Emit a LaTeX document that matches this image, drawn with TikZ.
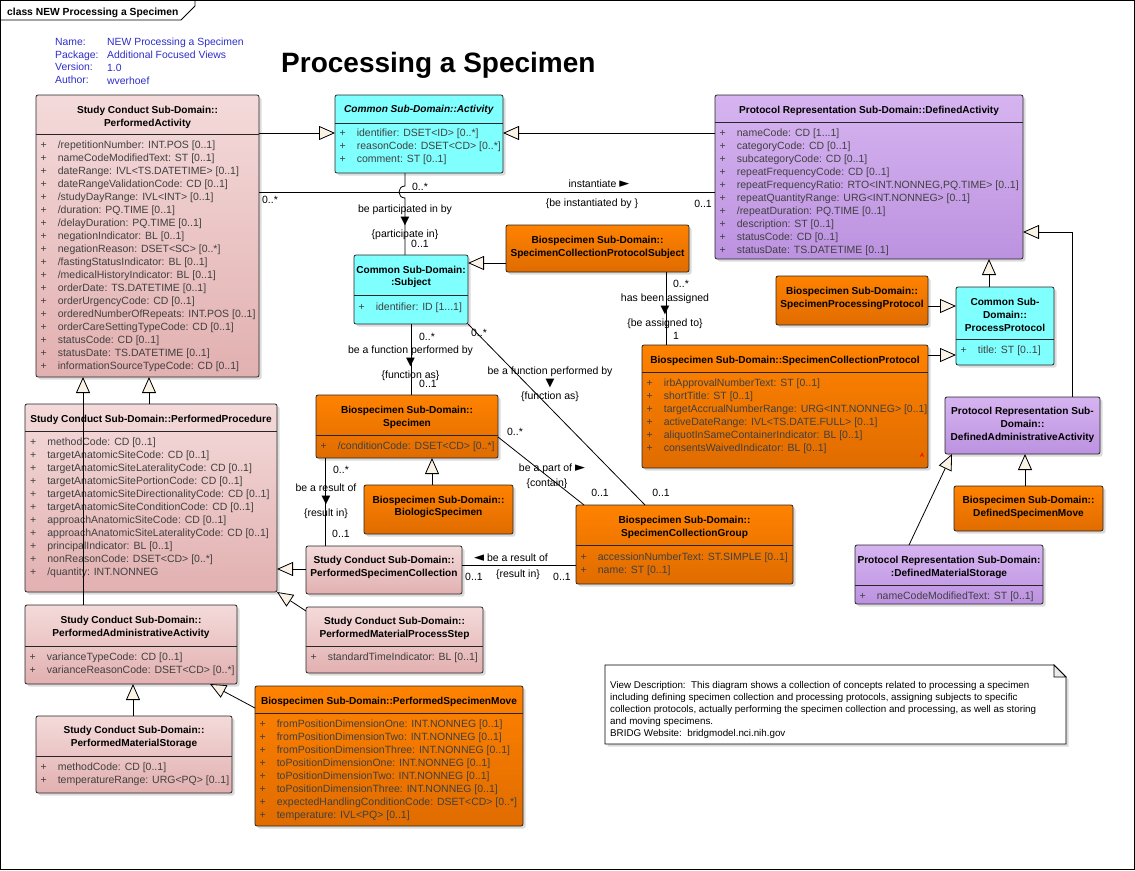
\documentclass[tikz,border=0pt]{standalone}
\usepackage{fontspec}
\setmainfont{Liberation Sans}
\newfontfamily\markfont{DejaVu Sans}
\usepackage{xcolor}
\usetikzlibrary{arrows.meta,positioning,shadows}

\definecolor{pinktop}{RGB}{244,218,218}
\definecolor{pinkbot}{RGB}{226,176,176}
\definecolor{orgtop}{RGB}{255,130,0}
\definecolor{orgbot}{RGB}{224,108,0}
\definecolor{cyanbox}{RGB}{128,255,255}
\definecolor{purtop}{RGB}{214,180,240}
\definecolor{purbot}{RGB}{188,146,224}
\definecolor{cream}{RGB}{250,242,228}
\definecolor{infoblue}{RGB}{45,45,200}

\begin{document}
\begin{tikzpicture}[x=1pt, y=-1pt,
  cls/.style={draw=black!85, line width=0.8pt, rounded corners=2pt, inner sep=0pt, outer sep=0pt,
    anchor=north west, drop shadow={shadow xshift=2.5pt, shadow yshift=-2.5pt, fill=black!40, opacity=0.35}},
  pinkc/.style={cls, top color=pinktop, bottom color=pinkbot},
  orgc/.style={cls, top color=orgtop, bottom color=orgbot},
  cyanc/.style={cls, fill=cyanbox},
  purc/.style={cls, top color=purtop, bottom color=purbot},
  hsep/.style={draw=black!85, line width=0.8pt},
  hd/.style={font=\fontsize{10.1}{12.7}\selectfont\bfseries, align=center, inner sep=0pt},
  attr/.style={font=\fontsize{10.5}{13}\selectfont, text=black!75, anchor=north west, inner sep=0pt},
  lb/.style={font=\fontsize{10.5}{12.3}\selectfont, align=center, inner sep=0pt},
  infotxt/.style={font=\fontsize{10.4}{12.9}\selectfont, text=infoblue, align=left, inner sep=0pt, anchor=west},
  gen/.style={-{Triangle[length=16pt, width=14pt, fill=cream]}, line width=0.8pt},
  asc/.style={line width=0.8pt}]
\useasboundingbox (0,0) rectangle (1135,870);
\draw[line width=0.8pt] (0.5,0.5) rectangle (1134,869);
\draw[line width=0.8pt] (0.5,20) -- (181,20) -- (195,6) -- (195,0.5);
\node[font=\fontsize{10.3}{12}\selectfont\bfseries, anchor=base west, inner sep=0pt] (tab) at (7,15) {class NEW Processing a Specimen};
\node[infotxt] (inf1) at (55,61) {Name:\\Package:\\Version:\\Author:};
\node[infotxt] (inf2) at (107,61) {NEW Processing a Specimen\\Additional Focused Views\\1.0\\wverhoef};
\node[font=\fontsize{28}{30}\selectfont\bfseries, anchor=base west, inner sep=0pt] (ttl) at (281,72) {Processing a Specimen};

\node[pinkc, minimum width=223, minimum height=282] (pa) at (36,95) {};
\draw[hsep] (36,134) -- (259,134);
\node[hd] (pa-t) at (147.5,117.5) {Study Conduct Sub-Domain::\\PerformedActivity};
\node[attr] (pa-a) at (40.5,139) {\begin{tabular}{@{}l@{\hspace{11pt}}l@{}}
+ & /repetitionNumber: INT.POS [0..1]\\
+ & nameCodeModifiedText: ST [0..1]\\
+ & dateRange: IVL<TS.DATETIME> [0..1]\\
+ & dateRangeValidationCode: CD [0..1]\\
+ & /studyDayRange: IVL<INT> [0..1]\\
+ & /duration: PQ.TIME [0..1]\\
+ & /delayDuration: PQ.TIME [0..1]\\
+ & negationIndicator: BL [0..1]\\
+ & negationReason: DSET<SC> [0..*]\\
+ & /fastingStatusIndicator: BL [0..1]\\
+ & /medicalHistoryIndicator: BL [0..1]\\
+ & orderDate: TS.DATETIME [0..1]\\
+ & orderUrgencyCode: CD [0..1]\\
+ & orderedNumberOfRepeats: INT.POS [0..1]\\
+ & orderCareSettingTypeCode: CD [0..1]\\
+ & statusCode: CD [0..1]\\
+ & statusDate: TS.DATETIME [0..1]\\
+ & informationSourceTypeCode: CD [0..1]
\end{tabular}};

\node[cyanc, minimum width=168, minimum height=78] (act) at (335,95) {};
\draw[hsep] (335,123) -- (503,123);
\node[hd] (act-t) at (419,110) {\textit{Common Sub-Domain::Activity}};
\node[attr] (act-a) at (339.5,127.4) {\begin{tabular}{@{}l@{\hspace{11pt}}l@{}}
+ & identifier: DSET<ID> [0..*]\\
+ & reasonCode: DSET<CD> [0..*]\\
+ & comment: ST [0..1]
\end{tabular}};

\node[purc, minimum width=308, minimum height=164] (da) at (715,95) {};
\draw[hsep] (715,122) -- (1023,122);
\node[hd] (da-t) at (869,110.7) {Protocol Representation Sub-Domain::DefinedActivity};
\node[attr] (da-a) at (719.5,127.4) {\begin{tabular}{@{}l@{\hspace{11pt}}l@{}}
+ & nameCode: CD [1...1]\\
+ & categoryCode: CD [0..1]\\
+ & subcategoryCode: CD [0..1]\\
+ & repeatFrequencyCode: CD [0..1]\\
+ & repeatFrequencyRatio: RTO<INT.NONNEG,PQ.TIME> [0..1]\\
+ & repeatQuantityRange: URG<INT.NONNEG> [0..1]\\
+ & /repeatDuration: PQ.TIME [0..1]\\
+ & description: ST [0..1]\\
+ & statusCode: CD [0..1]\\
+ & statusDate: TS.DATETIME [0..1]
\end{tabular}};

\node[cyanc, minimum width=114, minimum height=69] (subj) at (354,255) {};
\draw[hsep] (354,295) -- (468,295);
\node[hd] (subj-t) at (411,277) {Common Sub-Domain:\\:Subject};
\node[attr] (subj-a) at (358.5,300.7) {\begin{tabular}{@{}l@{\hspace{11pt}}l@{}}
+ & identifier: ID [1...1]
\end{tabular}};

\node[orgc, minimum width=183, minimum height=47] (scps) at (506,225) {};
\node[hd] (scps-t) at (597.5,247.3) {Biospecimen Sub-Domain::\\SpecimenCollectionProtocolSubject};

\node[orgc, minimum width=286, minimum height=123] (scp) at (642,345) {};
\draw[hsep] (642,372) -- (928,372);
\node[hd] (scp-t) at (785,360.7) {Biospecimen Sub-Domain::SpecimenCollectionProtocol};
\node[attr] (scp-a) at (646.5,377) {\begin{tabular}{@{}l@{\hspace{11pt}}l@{}}
+ & irbApprovalNumberText: ST [0..1]\\
+ & shortTitle: ST [0..1]\\
+ & targetAccrualNumberRange: URG<INT.NONNEG> [0..1]\\
+ & activeDateRange: IVL<TS.DATE.FULL> [0..1]\\
+ & aliquotInSameContainerIndicator: BL [0..1]\\
+ & consentsWaivedIndicator: BL [0..1]
\end{tabular}};
\node[text=red, font=\fontsize{6}{6}\selectfont\bfseries\itshape, inner sep=0pt] (scp-m) at (922,455) {A};

\node[orgc, minimum width=152, minimum height=49] (spp) at (776,276) {};
\node[hd] (spp-t) at (852,298.2) {Biospecimen Sub-Domain::\\SpecimenProcessingProtocol};

\node[cyanc, minimum width=98, minimum height=78] (pp2) at (956,287) {};
\draw[hsep] (956,339.3) -- (1054,339.3);
\node[hd] (pp2-t) at (1005,314.8) {Common Sub-\\Domain::\\ProcessProtocol};
\node[attr] (pp2-a) at (960.5,344.4) {\begin{tabular}{@{}l@{\hspace{11pt}}l@{}}
+ & title: ST [0..1]
\end{tabular}};

\node[purc, minimum width=155, minimum height=57] (daa) at (945,397) {};
\node[hd] (daa-t) at (1022.5,424.7) {Protocol Representation Sub-\\Domain::\\DefinedAdministrativeActivity};

\node[orgc, minimum width=149, minimum height=45] (dsm) at (954,486) {};
\node[hd] (dsm-t) at (1028.5,507.2) {Biospecimen Sub-Domain::\\DefinedSpecimenMove};

\node[purc, minimum width=188, minimum height=59] (dms) at (855,545) {};
\draw[hsep] (855,585) -- (1043,585);
\node[hd] (dms-t) at (949,567.2) {Protocol Representation Sub-Domain:\\:DefinedMaterialStorage};
\node[attr] (dms-a) at (859.5,590) {\begin{tabular}{@{}l@{\hspace{11pt}}l@{}}
+ & nameCodeModifiedText: ST [0..1]
\end{tabular}};

\node[orgc, minimum width=182, minimum height=63] (spec) at (316,395) {};
\draw[hsep] (316,435) -- (498,435);
\node[hd] (spec-t) at (407,417.3) {Biospecimen Sub-Domain::\\Specimen};
\node[attr] (spec-a) at (320.5,440.4) {\begin{tabular}{@{}l@{\hspace{11pt}}l@{}}
+ & /conditionCode: DSET<CD> [0..*]
\end{tabular}};

\node[orgc, minimum width=149, minimum height=49] (bio) at (364,485) {};
\node[hd] (bio-t) at (438.5,506.8) {Biospecimen Sub-Domain::\\BiologicSpecimen};

\node[orgc, minimum width=217, minimum height=79] (scg) at (576,505) {};
\draw[hsep] (576,545) -- (793,545);
\node[hd] (scg-t) at (684.5,527.2) {Biospecimen Sub-Domain::\\SpecimenCollectionGroup};
\node[attr] (scg-a) at (580.5,550.7) {\begin{tabular}{@{}l@{\hspace{11pt}}l@{}}
+ & accessionNumberText: ST.SIMPLE [0..1]\\
+ & name: ST [0..1]
\end{tabular}};

\node[pinkc, minimum width=156, minimum height=48] (psc) at (306,546) {};
\node[hd] (psc-t) at (384,567.3) {Study Conduct Sub-Domain::\\PerformedSpecimenCollection};

\node[pinkc, minimum width=252, minimum height=188] (proc) at (25,404) {};
\draw[hsep] (25,431) -- (277,431);
\node[hd] (proc-t) at (151,420) {Study Conduct Sub-Domain::PerformedProcedure};
\node[attr] (proc-a) at (30,436.4) {\begin{tabular}{@{}l@{\hspace{11pt}}l@{}}
+ & methodCode: CD [0..1]\\
+ & targetAnatomicSiteCode: CD [0..1]\\
+ & targetAnatomicSiteLateralityCode: CD [0..1]\\
+ & targetAnatomicSitePortionCode: CD [0..1]\\
+ & targetAnatomicSiteDirectionalityCode: CD [0..1]\\
+ & targetAnatomicSiteConditionCode: CD [0..1]\\
+ & approachAnatomicSiteCode: CD [0..1]\\
+ & approachAnatomicSiteLateralityCode: CD [0..1]\\
+ & principalIndicator: BL [0..1]\\
+ & nonReasonCode: DSET<CD> [0..*]\\
+ & /quantity: INT.NONNEG
\end{tabular}};

\node[pinkc, minimum width=177, minimum height=66] (pmps) at (306,607) {};
\draw[hsep] (306,646) -- (483,646);
\node[hd] (pmps-t) at (394.5,628.2) {Study Conduct Sub-Domain::\\PerformedMaterialProcessStep};
\node[attr] (pmps-a) at (310.5,651.4) {\begin{tabular}{@{}l@{\hspace{11pt}}l@{}}
+ & standardTimeIndicator: BL [0..1]
\end{tabular}};

\node[pinkc, minimum width=212, minimum height=79] (paa) at (25,605) {};
\draw[hsep] (25,646) -- (237,646);
\node[hd] (paa-t) at (131,627.2) {Study Conduct Sub-Domain::\\PerformedAdministrativeActivity};
\node[attr] (paa-a) at (29.5,650.7) {\begin{tabular}{@{}l@{\hspace{11pt}}l@{}}
+ & varianceTypeCode: CD [0..1]\\
+ & varianceReasonCode: DSET<CD> [0..*]
\end{tabular}};

\node[pinkc, minimum width=196, minimum height=77] (pms) at (36,716) {};
\draw[hsep] (36,756) -- (232,756);
\node[hd] (pms-t) at (134,737.3) {Study Conduct Sub-Domain::\\PerformedMaterialStorage};
\node[attr] (pms-a) at (40.5,760.7) {\begin{tabular}{@{}l@{\hspace{11pt}}l@{}}
+ & methodCode: CD [0..1]\\
+ & temperatureRange: URG<PQ> [0..1]
\end{tabular}};

\node[orgc, minimum width=268, minimum height=140] (psm) at (255,686) {};
\draw[hsep] (255,713.3) -- (523,713.3);
\node[hd] (psm-t) at (389,702.3) {Biospecimen Sub-Domain::PerformedSpecimenMove};
\node[attr] (psm-a) at (259.5,718.4) {\begin{tabular}{@{}l@{\hspace{11pt}}l@{}}
+ & fromPositionDimensionOne: INT.NONNEG [0..1]\\
+ & fromPositionDimensionTwo: INT.NONNEG [0..1]\\
+ & fromPositionDimensionThree: INT.NONNEG [0..1]\\
+ & toPositionDimensionOne: INT.NONNEG [0..1]\\
+ & toPositionDimensionTwo: INT.NONNEG [0..1]\\
+ & toPositionDimensionThree: INT.NONNEG [0..1]\\
+ & expectedHandlingConditionCode: DSET<CD> [0..*]\\
+ & temperature: IVL<PQ> [0..1]
\end{tabular}};

\draw[line width=0.8pt, fill=white, drop shadow={shadow xshift=2.5pt, shadow yshift=-2.5pt, fill=black!40, opacity=0.35}]
  (605,665) -- (1054,665) -- (1066,677) -- (1066,744) -- (605,744) -- cycle;
\draw[line width=0.8pt, fill=black!8] (1054,665) -- (1054,677) -- (1066,677) -- cycle;
\node[font=\fontsize{9.8}{12}\selectfont, align=left, anchor=north west, inner sep=0pt] (note) at (610,681.5)
  {View Description:\ \ This diagram shows a collection of concepts related to processing a specimen\\
   including defining specimen collection and processing protocols, assigning subjects to specific\\
   collection protocols, actually performing the specimen collection and processing, as well as storing\\
   and moving specimens.\\
   BRIDG Website:\ \ bridgmodel.nci.nih.gov};

\draw[gen] (pa.east |- 0,133) -- (act.west |- 0,133);
\draw[gen] (da.west |- 0,133) -- (act.east |- 0,133);
\draw[asc] (pa.east |- 0,192) -- (da.west |- 0,192);
\draw[asc] (act.south -| 405,0) -- (405,186) .. controls (397,186) and (397,198) .. (405,198) -- (subj.north -| 405,0);
\draw[gen] (scps.west |- 0,263) -- (subj.east |- 0,263);
\draw[asc] (scps.south -| 666,0) -- (scp.north -| 666,0);
\draw[gen] (spp.east |- 0,306) -- (pp2.west |- 0,306);
\draw[gen] (scp.east |- 0,355) -- (pp2.west |- 0,355);
\draw[gen] (pp2.north -| 989,0) -- (da.south -| 989,0);
\draw[gen] (daa.north -| 1072,0) |- (da.east |- 0,232);
\draw[gen] (dsm.north -| 1025,0) -- (daa.south -| 1025,0);
\draw[gen] (dms.north -| 909,0) -- (daa.south -| 952,0);
\draw[asc] (subj.south -| 411,0) -- (spec.north -| 411,0);
\draw[asc] (subj.south east) -- (scg.north -| 645,0);
\draw[asc] (spec.east |- 0,437) -- (scg.north -| 584,0);
\draw[gen] (bio.north -| 432,0) -- (spec.south -| 432,0);
\draw[asc] (spec.south -| 325,0) -- (psc.north -| 325,0);
\draw[asc] (psc.east |- 0,565) -- (scg.west |- 0,565);
\draw[gen] (psc.west |- 0,569) -- (proc.east |- 0,569);
\draw[gen] (pmps.west |- 0,611) -- (proc.south east);
\draw[gen] (proc.north -| 149,0) -- (pa.south -| 149,0);
\draw[gen] (paa.north -| 83,0) -- (pa.south -| 83,0);
\draw[gen] (pms.north -| 133,0) -- (paa.south -| 133,0);
\draw[gen] (psm.west |- 0,708) -- (paa.south -| 210,0);

\node[lb] (m1) at (270,200) {0..*};
\node[lb] (m2) at (599,184) {instantiate {\markfont\fontsize{13}{12}\selectfont ►}};
\node[lb] (m3) at (592,204) {\{be instantiated by \}};
\node[lb] (m4) at (703,204) {0..1};
\node[lb] (m5) at (420,187) {0..*};
\node[lb] (m6) at (405,222) {be participated in by\\{\markfont\fontsize{11.5}{12}\selectfont ▼}\\\{participate in\}};
\node[lb] (m7) at (420,244) {0..1};
\node[lb] (m8) at (681,284) {0..*};
\node[lb] (m9) at (665,311) {has been assigned\\{\markfont\fontsize{11.5}{12}\selectfont ▼}\\\{be assigned to\}};
\node[lb] (m10) at (676,336) {1};
\node[lb] (m11) at (427,337) {0..*};
\node[lb] (m12) at (410.5,363) {be a function performed by\\{\markfont\fontsize{11.5}{12}\selectfont ▼}\\\{function as\}};
\node[lb] (m13) at (428,384) {0..1};
\node[lb] (m14) at (479,333) {0..*};
\node[lb] (m15) at (550,384) {be a function performed by\\{\markfont\fontsize{11.5}{12}\selectfont ▼}\\\{function as\}};
\node[lb] (m16) at (661,493) {0..1};
\node[lb] (m17) at (515,432) {0..*};
\node[lb] (m18) at (552,469) {be a part of {\markfont\fontsize{13}{12}\selectfont ►}};
\node[lb] (m19) at (547,484) {\{contain\}};
\node[lb] (m20) at (600,493) {0..1};
\node[lb] (m21) at (341,470) {0..*};
\node[lb] (m22) at (326,501) {be a result of\\{\markfont\fontsize{11.5}{12}\selectfont ▼}\\\{result in\}};
\node[lb] (m23) at (341,534) {0..1};
\node[lb] (m24) at (511,557.7) {{\markfont\fontsize{13}{12}\selectfont ◄} be a result of};
\node[lb] (m25) at (518,575) {\{result in\}};
\node[lb] (m26) at (474,577) {0..1};
\node[lb] (m27) at (562,577) {0..1};
\end{tikzpicture}
\end{document}
